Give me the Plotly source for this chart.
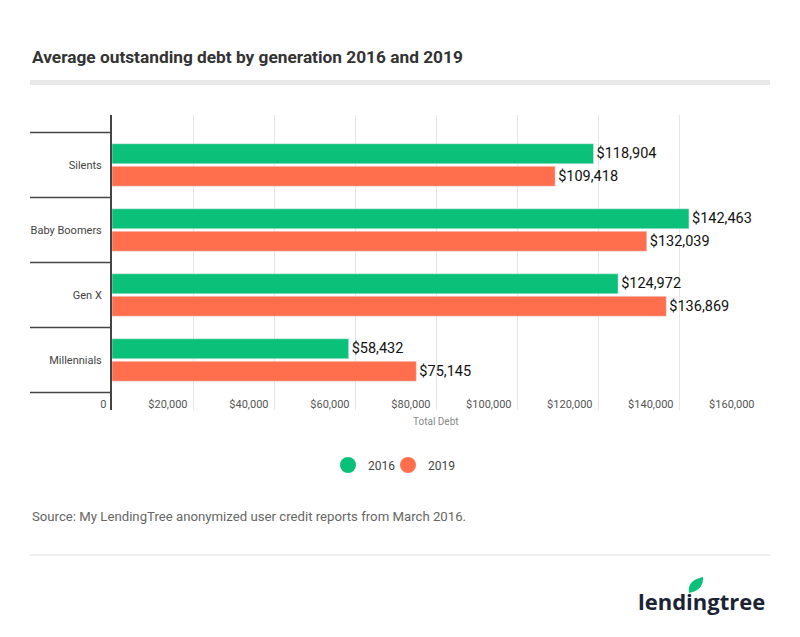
import plotly.graph_objects as go

categories = ["Silents", "Baby Boomers", "Gen X", "Millennials"]
debt_2016 = [118904, 142463, 124972, 58432]
debt_2019 = [109418, 132039, 136869, 75145]
tick_vals = [0, 20000, 40000, 60000, 80000, 100000, 120000, 140000, 160000]
tick_text = ["0", "$20,000", "$40,000", "$60,000", "$80,000", "$100,000", "$120,000", "$140,000", "$160,000"]

GREEN = "#0bc078"
ORANGE = "#ff6f4e"
W, H = 800, 637
OFF = 8  # page body margin
L, R, T, B = 112, 760, 115, 410  # plot area in window pixels

def px(x):
    return (x - L) / (R - L)

def py(y):
    return (B - y) / (B - T)

def money(v):
    return "${:,}".format(v)

NB = "\u00a0"

fig = go.Figure()
fig.add_trace(go.Bar(y=categories, x=debt_2016, orientation="h", name="2016",
                     marker_color=GREEN, text=[money(v) for v in debt_2016],
                     textposition="outside", cliponaxis=False, showlegend=False,
                     textfont=dict(family="Roboto", size=14.5, color="#111")))
fig.add_trace(go.Bar(y=categories, x=debt_2019, orientation="h", name="2019",
                     marker_color=ORANGE, text=[money(v) for v in debt_2019],
                     textposition="outside", cliponaxis=False, showlegend=False,
                     textfont=dict(family="Roboto", size=14.5, color="#111")))
for nm, col, lg in [("2016", GREEN, "legend"), ("2019", ORANGE, "legend2")]:
    fig.add_trace(go.Scatter(x=[None], y=[None], mode="markers", name=nm, legend=lg,
                             marker=dict(color=col, size=16, symbol="circle")))

shapes = []
for b in [-0.5, 0.5, 1.5, 2.5, 3.5]:
    shapes.append(dict(type="line", xref="paper", yref="y", x0=px(30), x1=px(112),
                       y0=b, y1=b, line=dict(color="#444", width=1.5)))
shapes.append(dict(type="rect", xref="paper", yref="paper", x0=px(30), x1=px(770),
                   y0=py(85), y1=py(80), fillcolor="#e8e8e8", line=dict(width=0)))
shapes.append(dict(type="line", xref="paper", yref="paper", x0=px(30), x1=px(770),
                   y0=py(555), y1=py(555), line=dict(color="#dddddd", width=1)))
# leaf logo
shapes.append(dict(type="path", xref="paper", yref="paper",
                   path="M {} {} Q {} {} {} {} Q {} {} {} {} Z".format(
                       px(689), py(593), px(687), py(580), px(703), py(577),
                       px(704), py(590), px(689), py(593)),
                   fillcolor="#0bc078", line=dict(width=0)))

annotations = [
    dict(text="<b>Average outstanding debt by generation 2016 and 2019</b>",
         xref="paper", yref="paper", x=px(30), y=py(57), xanchor="left", yanchor="middle",
         showarrow=False, font=dict(family="Roboto", size=17.3, color="#333")),
    dict(text="Source: My LendingTree anonymized user credit reports from March 2016.",
         xref="paper", yref="paper", x=px(30), y=py(516), xanchor="left", yanchor="middle",
         showarrow=False, font=dict(family="Roboto", size=13.2, color="#666")),
    dict(text="<b>lendingtree</b>", xref="paper", yref="paper", x=px(767), y=py(601),
         xanchor="right", yanchor="middle", showarrow=False,
         font=dict(family="Open Sans", size=22, color="#1c2434")),
    dict(text="Total Debt", xref="paper", yref="paper", x=0.5, y=py(421),
         xanchor="center", yanchor="middle", showarrow=False,
         font=dict(family="Roboto", size=10, color="#888")),
]

def leg(circle_x):
    return dict(orientation="h", xref="container", yref="container",
                x=(circle_x - 20 - OFF) / W, xanchor="left",
                y=1 - (465 - OFF) / H, yanchor="middle", bgcolor="rgba(0,0,0,0)",
                font=dict(family="Roboto", size=12, color="#444"), itemwidth=30)

fig.update_layout(
    width=W, height=H,
    margin=dict(l=L - OFF, r=W - R + OFF, t=T - OFF, b=H - B + OFF, pad=0),
    paper_bgcolor="white", plot_bgcolor="white",
    barmode="group", bargap=0.3077, bargroupgap=0.111,
    font=dict(family="Roboto", color="#444"),
    shapes=shapes, annotations=annotations,
    legend=leg(348), legend2=leg(408),
    xaxis=dict(range=[0, 160000], tickvals=tick_vals, ticktext=[t + NB * 2 for t in tick_text],
               showgrid=True, gridcolor="#e6e6e6", gridwidth=1, zeroline=False,
               ticklabelposition="inside left", ticklabeloverflow="allow",
               ticklabelstandoff=-6,
               tickfont=dict(family="Roboto", size=11, color="#555"), showline=False,
               fixedrange=True),
    yaxis=dict(categoryorder="array", categoryarray=categories,
               range=[3 + 50 / 65, -50 / 65], showgrid=False, zeroline=False,
               showline=True, linecolor="#444", linewidth=2, ticks="",
               ticklabelstandoff=6,
               tickfont=dict(family="Roboto", size=11, color="#444")),
)

fig.write_html("out.html")
